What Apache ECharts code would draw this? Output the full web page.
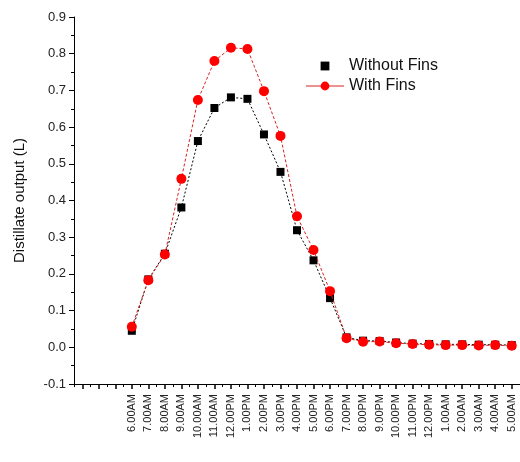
<!DOCTYPE html>
<html>
<head>
<meta charset="utf-8">
<script src="https://cdn.jsdelivr.net/npm/echarts@6/dist/echarts.min.js"></script>
<style>
  html, body { margin: 0; padding: 0; background: #fff; }
  #chart { width: 520px; height: 462px; }
</style>
</head>
<body>
<div id="chart"></div>
<script>
// Hourly sampling times (note: midnight is labelled 12.00PM as well)
const times = ['6.00AM', '7.00AM', '8.00AM', '9.00AM', '10.00AM', '11.00AM', '12.00PM',
  '1.00PM', '2.00PM', '3.00PM', '4.00PM', '5.00PM', '6.00PM', '7.00PM', '8.00PM',
  '9.00PM', '10.00PM', '11.00PM', '12.00PM', '1.00AM', '2.00AM', '3.00AM', '4.00AM', '5.00AM'];

// Distillate output (L)
const withoutFins = [0.045, 0.185, 0.255, 0.381, 0.562, 0.652, 0.681, 0.677, 0.580, 0.478,
  0.319, 0.237, 0.134, 0.027, 0.018, 0.017, 0.013, 0.010, 0.009, 0.008, 0.008, 0.007, 0.007, 0.006];
const withFins = [0.056, 0.183, 0.253, 0.459, 0.674, 0.780, 0.816, 0.813, 0.698, 0.576,
  0.357, 0.265, 0.153, 0.025, 0.015, 0.016, 0.011, 0.009, 0.007, 0.006, 0.006, 0.005, 0.006, 0.004];

const yTicks = { min: -0.1, max: 0.9, step: 0.1 };

const toPoints = arr => arr.map((v, i) => [i, v]);
const labelIdx = times.map((t, i) => i);

const font = 'Arial, "Liberation Sans", sans-serif';

const chart = echarts.init(document.getElementById('chart'), null, { renderer: 'canvas' });
chart.setOption({
  animation: false,
  backgroundColor: '#fff',
  grid: { left: 74, top: 17, right: 0, bottom: 78, containLabel: false },
  legend: {
    orient: 'vertical',
    left: 300,
    top: 53,
    itemWidth: 38,
    itemHeight: 11,
    itemGap: 4,
    textStyle: { fontFamily: font, fontSize: 16, color: '#111' },
    data: [
      { name: 'Without Fins', lineStyle: { opacity: 0 } },
      { name: 'With Fins', lineStyle: { type: 'solid', width: 1 } }
    ]
  },
  xAxis: {
    type: 'value',
    min: -3.5,
    max: 23.5,
    interval: 1,
    axisLine: { show: true, onZero: false, lineStyle: { color: '#000', width: 1 } },
    axisTick: { show: true, length: 3, lineStyle: { color: '#000' } },
    minorTick: { show: true, splitNumber: 2, length: 5, lineStyle: { color: '#000', width: 1.5 } },
    splitLine: { show: false },
    minorSplitLine: { show: false },
    axisLabel: {
      customValues: labelIdx,
      formatter: v => times[v] !== undefined ? times[v] : '',
      rotate: 90,
      margin: 10,
      fontFamily: font,
      fontSize: 11,
      color: '#222'
    }
  },
  yAxis: {
    type: 'value',
    min: yTicks.min,
    max: yTicks.max,
    interval: yTicks.step,
    name: 'Distillate output (L)',
    nameLocation: 'middle',
    nameGap: 47,
    nameTextStyle: { fontFamily: font, fontSize: 15, color: '#111' },
    axisLine: { show: true, onZero: false, lineStyle: { color: '#000', width: 1 } },
    axisTick: { show: true, length: 5, lineStyle: { color: '#000' } },
    minorTick: { show: true, splitNumber: 2, length: 3, lineStyle: { color: '#000' } },
    splitLine: { show: false },
    axisLabel: {
      margin: 8,
      formatter: v => v.toFixed(1),
      fontFamily: font,
      fontSize: 13,
      color: '#222'
    }
  },
  series: [
    {
      name: 'Without Fins',
      type: 'line',
      data: toPoints(withoutFins),
      symbol: 'rect',
      symbolSize: 8,
      itemStyle: { color: '#000' },
      lineStyle: { color: '#000', width: 1, type: [2, 2] },
      z: 2
    },
    {
      name: 'With Fins',
      type: 'line',
      data: toPoints(withFins),
      symbol: 'circle',
      symbolSize: 10,
      itemStyle: { color: '#ff0000' },
      lineStyle: { color: '#d22', width: 1, type: [3, 2] },
      z: 3
    }
  ]
});
</script>
</body>
</html>
